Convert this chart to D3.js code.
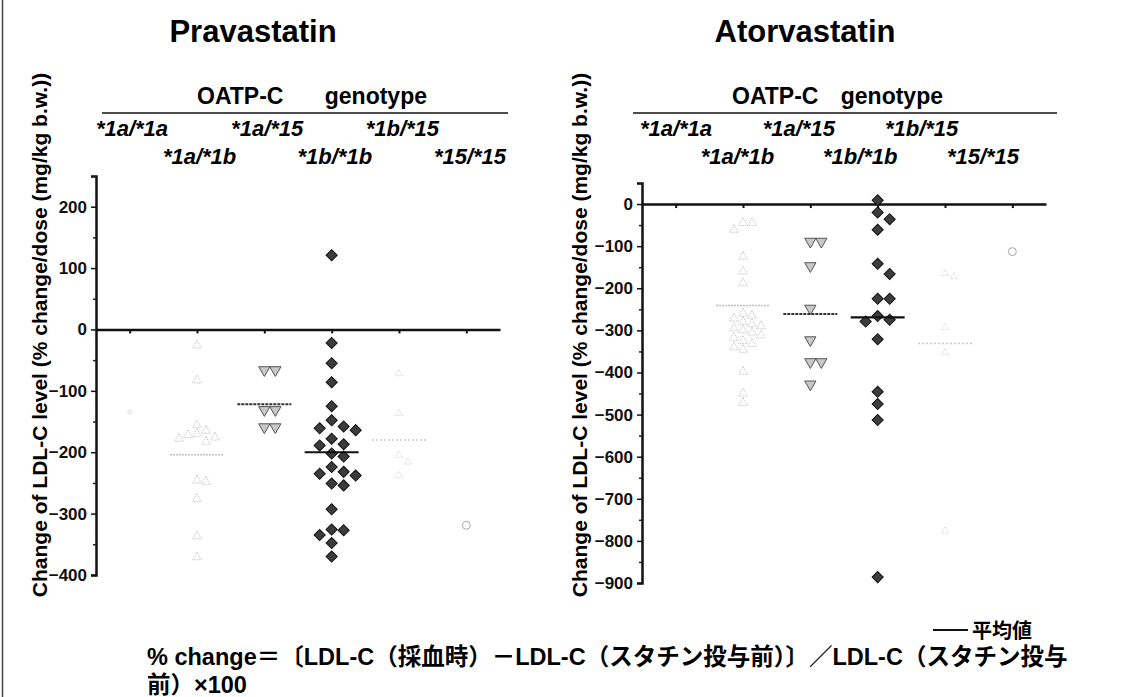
<!DOCTYPE html>
<html>
<head>
<meta charset="utf-8">
<script src="https://cdn.jsdelivr.net/npm/d3@7"></script>
<style>
  body { margin: 0; background: #fff; }
  svg { display: block; font-family: Arial, "Liberation Sans", sans-serif; }
</style>
</head>
<body>
<svg id="chart" width="1133" height="697"></svg>
<script>
// genotype categories (same order in both panels)
const genotypes = ['*1a/*1a', '*1a/*1b', '*1a/*15', '*1b/*1b', '*1b/*15', '*15/*15'];

// Pravastatin, % change/dose per patient
const prava1a1a = [-134];
const prava1a1b = [-26, -83, -156, -165, -170, -172, -176, -178, -183, -246, -248, -276, -337, -371];
const prava1a15 = [-66, -66, -131, -131, -159, -159];
const prava1b1b = [121, -22, -55, -86, -125, -148, -158, -161, -164, -178, -187, -189, -202, -207,
                   -224, -232, -235, -238, -251, -254, -293, -326, -327, -335, -348, -370];
const prava1b15 = [-72, -137, -205, -216, -238];
const prava1515 = [-319];
const pravaMeans = [null, -204, -122, -200, -180, null];

// Atorvastatin
const atorva1a1a = [];
const atorva1a1b = [-45, -45, -61, -125, -160, -188, -260, -265, -272, -280, -285, -290, -295, -300,
                    -305, -312, -318, -325, -332, -340, -346, -398, -450, -472];
const atorva1a15 = [-89, -89, -147, -248, -323, -375, -375, -428];
const atorva1b1b = [9, -20, -36, -61, -142, -166, -225, -225, -266, -275, -279, -321, -446, -475, -513, -886];
const atorva1b15 = [-165, -172, -293, -353, -777];
const atorva1515 = [-113];
const atorvaMeans = [null, -241, -261, -269, -331, null];

// marker look per genotype
const styles = [
  { shape: d3.symbolCircle,   size: 10,  rot: 0,   fill: 'none', stroke: '#d6d6d6', dash: null,  step: 8 },
  { shape: d3.symbolTriangle, size: 34,  rot: 0,   fill: 'none', stroke: '#c8c8c8', dash: '1.5,1', step: 9 },
  { shape: d3.symbolTriangle, size: 55,  rot: 180, fill: '#c8c8c8', stroke: '#555', dash: null, step: 11 },
  { shape: d3.symbolSquare,   size: 62,  rot: 45,  fill: '#3c3c3c', stroke: '#111', dash: null, step: 12 },
  { shape: d3.symbolTriangle, size: 22,  rot: 0,   fill: 'none', stroke: '#d2d2d2', dash: '1,1', step: 9 },
  { shape: d3.symbolCircle,   size: 50,  rot: 0,   fill: 'none', stroke: '#a8a8a8', dash: null, step: 10 }
];
const meanStyles = [
  null,
  { stroke: '#c0c0c0', width: 1.5, dash: '2,1' },
  { stroke: '#333',    width: 2,   dash: '3,1' },
  { stroke: '#111',    width: 2.2, dash: null },
  { stroke: '#c8c8c8', width: 1.5, dash: '2,2' },
  null
];

const svg = d3.select('#chart');
const font = 'Arial, "Liberation Sans", sans-serif';

// frame line on the left edge
svg.append('line')
  .attr('x1', 2.5).attr('x2', 2.5).attr('y1', 0).attr('y2', 697)
  .attr('stroke', '#444').attr('stroke-width', 1.5);

function drawPanel(p) {
  const g = svg.append('g');

  const y = d3.scaleLinear().domain(p.yDomain).range([p.bottom, p.top]);
  const x = d3.scalePoint().domain(genotypes).range([p.axisX, p.axisX + 404]).padding(0.5);
  const xl = d3.scalePoint().domain(genotypes).range(p.labelRange);

  // title
  g.append('text')
    .attr('x', p.titleX).attr('y', 42)
    .attr('text-anchor', 'middle')
    .style('font-size', '31px').style('font-weight', 'bold')
    .text(p.title);

  // "OATP-C genotype" header + rule
  g.append('text')
    .attr('x', p.headX[0]).attr('y', 104)
    .style('font-size', '23px').style('font-weight', 'bold')
    .text('OATP-C');
  g.append('text')
    .attr('x', p.headX[1]).attr('y', 104)
    .attr('text-anchor', 'end')
    .style('font-size', '23px').style('font-weight', 'bold')
    .text('genotype');
  g.append('line')
    .attr('x1', p.ruleRange[0]).attr('x2', p.ruleRange[1])
    .attr('y1', 113).attr('y2', 113)
    .attr('stroke', '#111').attr('stroke-width', 1.5);

  // genotype labels, staggered on two rows
  g.selectAll('text.geno')
    .data(genotypes)
    .join('text')
    .attr('class', 'geno')
    .attr('x', d => xl(d))
    .attr('y', (d, i) => i % 2 === 0 ? 136 : 164)
    .attr('text-anchor', 'middle')
    .style('font-size', '22px').style('font-weight', 'bold').style('font-style', 'italic')
    .text(d => d);

  // y axis
  const major = d3.range(Math.ceil(p.yDomain[0] / 100) * 100, p.yDomain[1] + 1, 100);
  const minor = d3.range(p.yDomain[0] + 50, p.yDomain[1] + 1, 100);
  const yAxis = g.append('g')
    .attr('transform', `translate(${p.axisX},0)`)
    .call(d3.axisLeft(y).tickValues(major).tickSize(5).tickSizeOuter(5).tickPadding(4));
  yAxis.select('.domain').attr('stroke', '#111').attr('stroke-width', 2.5);
  yAxis.selectAll('.tick line').attr('stroke', '#111').attr('stroke-width', 1.5);
  yAxis.selectAll('.tick text')
    .style('font-family', font).style('font-size', '17px').style('font-weight', 'bold').attr('fill', '#111');
  g.append('g')
    .attr('transform', `translate(${p.axisX},0)`)
    .call(d3.axisLeft(y).tickValues(minor).tickSize(3).tickFormat(''))
    .call(a => a.select('.domain').remove())
    .selectAll('.tick line').attr('stroke', '#222').attr('stroke-width', 1.5);

  // y label
  g.append('text')
    .attr('transform', `translate(${p.labelX},${335}) rotate(-90)`)
    .attr('text-anchor', 'middle')
    .style('font-size', '21px').style('font-weight', 'bold')
    .text('Change of LDL-C level (% change/dose (mg/kg b.w.))');

  // zero line with category ticks
  const xAxis = g.append('g')
    .attr('transform', `translate(0,${y(0)})`)
    .call(d3.axisBottom(x).tickSize(4).tickSizeOuter(0).tickFormat(''));
  xAxis.select('.domain').attr('stroke', '#111').attr('stroke-width', 2.5);
  xAxis.selectAll('.tick line').attr('stroke', '#111').attr('stroke-width', 2);

  // points, spread sideways where they would overlap
  p.groups.forEach((vals, gi) => {
    const st = styles[gi];
    const cx = x(genotypes[gi]);
    const placed = [];
    vals.slice().sort((a, b) => b - a).forEach(v => {
      const py = y(v);
      for (const k of [0, 1, -1, 2, -2, 3, -3]) {
        const px = cx + k * st.step;
        const hit = placed.some(q => Math.abs(q.x - px) < st.step * 0.9 && Math.abs(q.y - py) < st.step * 0.9);
        if (!hit) { placed.push({ x: px, y: py, v }); break; }
      }
    });
    g.selectAll(null)
      .data(placed)
      .join('path')
      .attr('d', d3.symbol().type(st.shape).size(st.size))
      .attr('transform', d => `translate(${d.x},${d.y}) rotate(${st.rot})`)
      .attr('fill', st.fill)
      .attr('stroke', st.stroke)
      .attr('stroke-width', 1)
      .attr('stroke-dasharray', st.dash);
  });

  // mean bars
  p.means.forEach((m, gi) => {
    if (m === null) return;
    const ms = meanStyles[gi];
    const cx = x(genotypes[gi]);
    g.append('line')
      .attr('x1', cx - 27).attr('x2', cx + 27)
      .attr('y1', y(m)).attr('y2', y(m))
      .attr('stroke', ms.stroke).attr('stroke-width', ms.width)
      .attr('stroke-dasharray', ms.dash);
  });
}

drawPanel({
  title: 'Pravastatin', titleX: 253, headX: [197, 427], ruleRange: [102, 508],
  labelRange: [132, 470], labelX: 47,
  axisX: 96, top: 176, bottom: 575, yDomain: [-400, 250],
  groups: [prava1a1a, prava1a1b, prava1a15, prava1b1b, prava1b15, prava1515],
  means: pravaMeans
});

drawPanel({
  title: 'Atorvastatin', titleX: 805, headX: [732, 943], ruleRange: [633, 1057],
  labelRange: [676, 983], labelX: 587,
  axisX: 642, top: 183, bottom: 583, yDomain: [-900, 50],
  groups: [atorva1a1a, atorva1a1b, atorva1a15, atorva1b1b, atorva1b15, atorva1515],
  means: atorvaMeans
});

// legend for the mean bar
svg.append('line')
  .attr('x1', 933).attr('x2', 968).attr('y1', 630).attr('y2', 630)
  .attr('stroke', '#111').attr('stroke-width', 2);
svg.append('text')
  .attr('x', 972).attr('y', 638)
  .style('font-family', '"Noto Sans CJK JP", sans-serif')
  .style('font-size', '20px').style('font-weight', 'bold')
  .text('平均値');

// formula note
const note = [
  '% change＝〔LDL-C（採血時）－LDL-C（スタチン投与前）〕／LDL-C（スタチン投与',
  '前）×100'
];
svg.selectAll('text.note')
  .data(note)
  .join('text')
  .attr('class', 'note')
  .attr('x', 147)
  .attr('y', (d, i) => 665 + i * 28)
  .style('font-family', 'Arial, "Noto Sans CJK JP", sans-serif')
  .style('font-size', '23.5px').style('font-weight', 'bold')
  .text(d => d);
</script>
</body>
</html>
